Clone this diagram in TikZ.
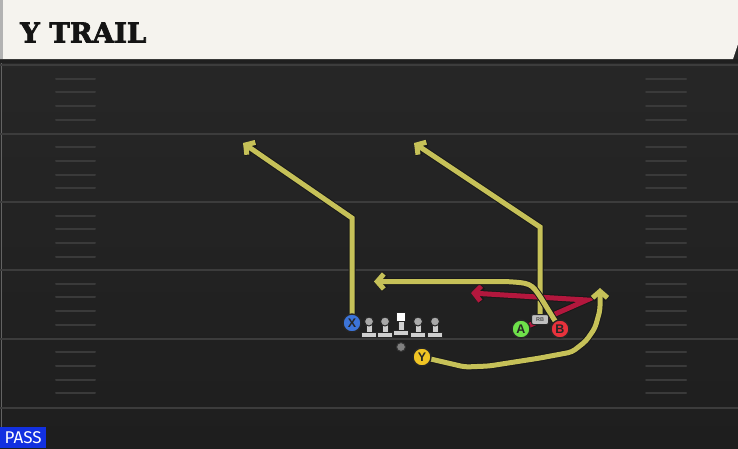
\documentclass[tikz,border=0pt]{standalone}
\usepackage{fontspec}
\usetikzlibrary{arrows.meta}
\newfontfamily\titlefont{DejaVu Serif}[BoldFeatures={FakeBold=2.5}]
\newfontfamily\passfont{Fira Sans}
\newfontfamily\plfont{Liberation Sans}
\definecolor{fieldtop}{HTML}{282828}
\definecolor{fieldbot}{HTML}{1E1E1E}
\definecolor{headbg}{HTML}{F5F3EE}
\definecolor{yardline}{HTML}{3C3C3C}
\definecolor{hashc}{HTML}{3A3A3A}
\definecolor{routeY}{HTML}{C6C158}
\definecolor{routeR}{HTML}{B3173D}
\definecolor{passblue}{HTML}{1230E0}
\definecolor{pblue}{HTML}{3C74D8}
\definecolor{pyellow}{HTML}{F0C424}
\definecolor{pgreen}{HTML}{6EE04A}
\definecolor{pred}{HTML}{E8323C}
\definecolor{lmgray}{HTML}{CFCFCF}
\definecolor{lmhead}{HTML}{A9A9A9}
\tikzset{
  player/.style={circle, draw=black!85, line width=1.4pt, minimum size=18pt, inner sep=0pt,
    font=\plfont\bfseries\fontsize{12.5}{12.5}\selectfont, text=black!85},
  route/.style={line width=5pt, draw=routeY, line join=miter,
    preaction={draw=black!90, line width=7pt}},
  redroute/.style={line width=5pt, draw=routeR, line join=miter,
    preaction={draw=black!90, line width=7pt}},
  tip/.style={-{Straight Barb[length=6.5pt,width=15pt]}},
  lineman/.pic={
    \fill[lmgray, draw=black!85, line width=1pt] (-3,-8) rectangle (3,1);
    \fill[lmgray, draw=black!85, line width=1pt] (-7.5,0) rectangle (7.5,5.5);
    \fill[lmhead, draw=black!85, line width=1pt] (0,-10.5) circle (4.5pt);
  },
  centerman/.pic={
    \fill[lmgray, draw=black!85, line width=1pt] (-3,-9) rectangle (3,1);
    \fill[lmgray, draw=black!85, line width=1pt] (-7.5,0) rectangle (7.5,5.5);
    \fill[white, draw=black!85, line width=1pt] (-4.5,-18) rectangle (4.5,-9);
  }
}
\begin{document}
\begin{tikzpicture}[x=1pt,y=-1pt]
\useasboundingbox (0,0) rectangle (738,448);
% field
\shade[top color=fieldtop, bottom color=fieldbot] (0,0) rectangle (738,448);
\fill[black!88] (0,59) rectangle (738,63);
\draw[yardline!80, line width=1pt] (1,63) -- (1,448);
% yard lines and hashes
\foreach \yy in {65,133.5,202,270,338.5,407.5}{
  \draw[yardline, line width=2pt] (0,\yy) -- (738,\yy);
}
\foreach \yy in {65,133.5,202,270,338.5}{
  \foreach \k in {1,2,3,4}{
    \draw[hashc, line width=2pt, line cap=round] (56,\yy+13.7*\k) -- (95,\yy+13.7*\k);
    \draw[hashc, line width=2pt, line cap=round] (646,\yy+13.7*\k) -- (686,\yy+13.7*\k);
  }
}
% header
\fill[headbg] (0,0) -- (738,0) -- (738,44) -- (733,59) -- (0,59) -- cycle;
\fill[black!30] (0,0) rectangle (3,59);
\node[anchor=base west, inner sep=0pt, text=black!92,
  font=\titlefont\bfseries\fontsize{27.5}{27.5}\selectfont] (title) at (20,42.5) {Y TRAIL};
% PASS label
\node[fill=passblue, text=white, anchor=south west, minimum width=46pt, minimum height=21pt,
  inner sep=0pt, font=\passfont\fontsize{17}{17}\selectfont] (pass) at (0,448) {PASS};

% player positions
\coordinate (Xc) at (352,323);
\coordinate (Yc) at (422,357);
\coordinate (Ac) at (521,329);
\coordinate (Bc) at (560,329);
\coordinate (RBc) at (540,319.5);
% route waypoints
\coordinate (x1) at (352,218);
\coordinate (xend) at (243,143);
\coordinate (r1) at (540,227);
\coordinate (rend) at (414,143);
\coordinate (b1) at (541,298);
\coordinate (b2) at (505,281.5);
\coordinate (bend) at (374,281.5);
\coordinate (a1) at (587,300);
\coordinate (aend) at (471,293);
\coordinate (y1) at (465,367);
\coordinate (y2) at (489,366);
\coordinate (y3) at (540,358);
\coordinate (y4) at (572,352);
\coordinate (y5) at (586,341);
\coordinate (y6) at (595,328);
\coordinate (y7) at (600,310);
\coordinate (yend) at (600,288);

% routes
\draw[route, tip] (Xc) -- (x1) -- (xend);
\draw[route, tip] (RBc) -- (r1) -- (rend);
\draw[redroute, tip] (Ac) -- (a1) -- (aend);
\draw[route, tip] (Bc) -- (b1) .. controls (531,283) .. (b2) -- (bend);
\draw[route, tip, rounded corners=4pt] (Yc) -- (y1) -- (y2) -- (y3) -- (y4) -- (y5) -- (y6) -- (y7) -- (yend);

% line
\pic at (369,332) {lineman};
\pic at (385,332) {lineman};
\pic at (401,330) {centerman};
\pic at (418,332) {lineman};
\pic at (435,332) {lineman};
\node[circle, fill=black!50, draw=black!80, line width=1pt, minimum size=9pt, inner sep=0pt] (ball) at (401,347) {};

% players
\node[player, fill=pblue] (X) at (Xc) {X};
\node[player, fill=pyellow] (Y) at (Yc) {Y};
\node[player, fill=pgreen] (A) at (Ac) {A};
\node[player, fill=pred] (B) at (Bc) {B};
\node[rounded corners=2pt, fill=black!25, draw=black!85, line width=1pt, minimum width=17pt,
  minimum height=10pt, inner sep=0pt, text=black!70,
  font=\plfont\bfseries\fontsize{5.5}{5.5}\selectfont] (RB) at (RBc) {RB};
\end{tikzpicture}
\end{document}
